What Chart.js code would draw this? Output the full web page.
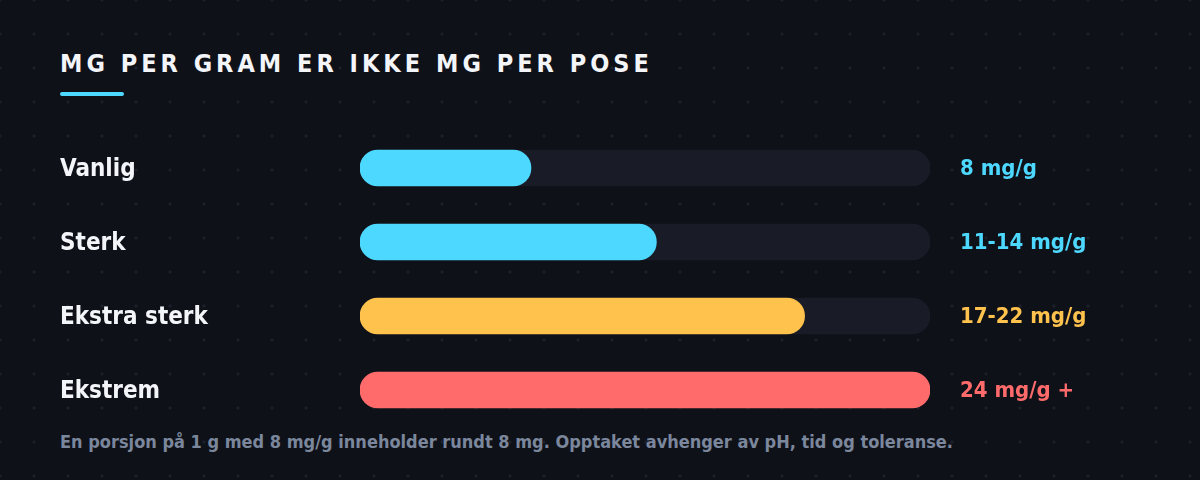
<!DOCTYPE html>
<html>
<head>
<meta charset="utf-8">
<script src="https://cdn.jsdelivr.net/npm/chart.js@4/dist/chart.umd.min.js"></script>
<style>
  html, body { margin: 0; padding: 0; }
  body {
    width: 1200px; height: 480px; overflow: hidden; position: relative;
    background-color: #0f1119;
    background-image: radial-gradient(circle, #1c202b 1.3px, transparent 1.8px);
    background-size: 34px 34px;
    background-position: -17px -17px;
    font-family: "DejaVu Sans Condensed", "DejaVu Sans", sans-serif;
  }
  #title {
    position: absolute; left: 60px; top: 49px;
    font-size: 25px; font-weight: bold; letter-spacing: 4px;
    color: #f3f5f9; white-space: nowrap;
  }
  #underline {
    position: absolute; left: 60px; top: 92px; width: 64px; height: 4px;
    border-radius: 2px; background: #4dd8ff;
  }
  #wrap { position: absolute; left: 0; top: 131px; width: 1200px; height: 296px; }
  #note {
    position: absolute; left: 60px; top: 431px;
    font-size: 18px; font-weight: bold; color: #7b879c; white-space: nowrap;
  }
</style>
</head>
<body>
<div id="title">MG PER GRAM ER IKKE MG PER POSE</div>
<div id="underline"></div>
<div id="wrap"><canvas id="chart"></canvas></div>
<div id="note">En porsjon på 1 g med 8 mg/g inneholder rundt 8 mg. Opptaket avhenger av pH, tid og toleranse.</div>
<script>
// ===== Data =====
const categories = ['Vanlig', 'Sterk', 'Ekstra sterk', 'Ekstrem'];
const strength = [30, 52, 78, 100];
const valueLabels = ['8 mg/g', '11-14 mg/g', '17-22 mg/g', '24 mg/g +'];
const trackMax = [100, 100, 100, 100];
const barColors = ['#4dd8ff', '#4dd8ff', '#ffc24d', '#ff6b6b'];

const font = { family: '"DejaVu Sans Condensed", "DejaVu Sans", sans-serif', weight: 'bold' };

// fixed axis widths, no extra vertical padding from the tick labels
function fitAxis(width) {
  return (scale) => {
    scale.width = width;
    scale.paddingTop = 0;
    scale.paddingBottom = 0;
  };
}

new Chart(document.getElementById('chart'), {
  type: 'bar',
  data: {
    labels: categories,
    datasets: [
      {
        data: strength,
        backgroundColor: barColors,
        grouped: false,
        order: 1,
        barThickness: 36,
        borderRadius: 18,
        borderSkipped: false
      },
      {
        data: trackMax,
        backgroundColor: '#191c26',
        grouped: false,
        order: 2,
        barThickness: 36,
        borderRadius: 18,
        borderSkipped: false
      }
    ]
  },
  options: {
    indexAxis: 'y',
    responsive: true,
    maintainAspectRatio: false,
    animation: false,
    events: [],
    layout: { padding: { left: 60, right: 0, top: 0, bottom: 0 } },
    plugins: { legend: { display: false }, tooltip: { enabled: false } },
    scales: {
      x: { display: false, min: 0, max: 100 },
      y: {
        position: 'left',
        grid: { display: false, drawTicks: false },
        border: { display: false },
        afterFit: fitAxis(300),
        ticks: {
          crossAlign: 'far',
          padding: 0,
          labelOffset: 2,
          color: '#f3f5f9',
          font: { ...font, size: 24 }
        }
      },
      y2: {
        type: 'category',
        position: 'right',
        labels: valueLabels,
        offset: true,
        grid: { display: false, drawTicks: false },
        border: { display: false },
        afterFit: fitAxis(270),
        ticks: {
          crossAlign: 'near',
          padding: 30,
          labelOffset: 1,
          color: (ctx) => barColors[ctx.index],
          font: { ...font, size: 22 }
        }
      }
    }
  }
});
</script>
</body>
</html>
